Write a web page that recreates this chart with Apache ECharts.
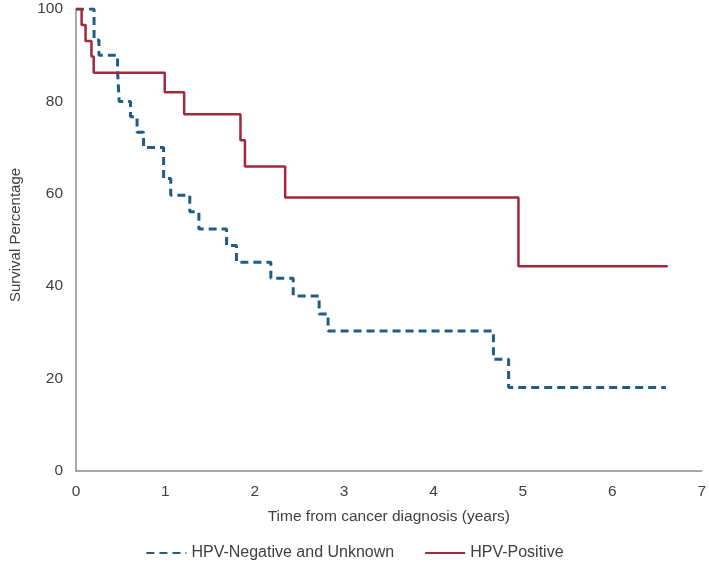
<!DOCTYPE html>
<html>
<head>
<meta charset="utf-8">
<script src="https://cdn.jsdelivr.net/npm/echarts@6/dist/echarts.min.js"></script>
<style>html,body{margin:0;padding:0;background:#fff;}#c{width:709px;height:567px;}</style>
</head>
<body>
<div id="c"></div>
<script>
// Kaplan-Meier step data: event times (years) and survival (%) after each event
const negTimes = [0, 0.202, 0.257, 0.465, 0.483, 0.61, 0.683, 0.756, 0.98, 1.06, 1.273, 1.375, 1.685, 1.795, 2.18, 2.43, 2.72, 2.82, 4.67, 4.84, 6.60];
const negSurv  = [100, 93.3, 90.0, 86.7, 80.0, 76.7, 73.3, 70.0, 63.3, 59.7, 56.1, 52.4, 48.8, 45.2, 41.7, 37.9, 34.0, 30.3, 24.2, 18.1, 18.1];
const posTimes = [0, 0.063, 0.107, 0.173, 0.198, 0.993, 1.21, 1.84, 1.89, 2.34, 4.95, 6.62];
const posSurv  = [100, 96.55, 93.1, 89.7, 86.2, 82.0, 77.2, 71.6, 65.9, 59.2, 44.3, 44.3];
const xTicks = [0, 1, 2, 3, 4, 5, 6, 7];
const yTicks = [0, 20, 40, 60, 80, 100];
const seriesNames = ['HPV-Negative and Unknown', 'HPV-Positive'];
const xTitle = 'Time from cancer diagnosis (years)';
const yTitle = 'Survival Percentage';

const toPairs = (t, s) => t.map((v, i) => [v, s[i]]);
const FONT = 'Liberation Sans, Arial, sans-serif';
const TXT = '#404040';

const chart = echarts.init(document.getElementById('c'), null, {renderer: 'canvas'});
chart.setOption({
  animation: false,
  backgroundColor: '#fff',
  grid: {left: 62, right: 6, top: 9, bottom: 96, containLabel: false},
  xAxis: {
    type: 'value', min: xTicks[0], max: xTicks[xTicks.length - 1], interval: 1,
    name: xTitle, nameLocation: 'middle', nameGap: 38,
    nameTextStyle: {fontFamily: FONT, fontSize: 15.5, color: TXT},
    axisLine: {show: true, lineStyle: {color: '#8c8c8c', width: 1.5}},
    axisTick: {show: false},
    splitLine: {show: false},
    axisLabel: {fontFamily: FONT, fontSize: 15.5, color: TXT, margin: 13}
  },
  yAxis: {
    type: 'value', min: yTicks[0], max: yTicks[yTicks.length - 1], interval: 20,
    name: yTitle, nameLocation: 'middle', nameGap: 53,
    nameTextStyle: {fontFamily: FONT, fontSize: 15, color: TXT, padding: [0, 0, 0, 10]},
    axisLine: {show: true, lineStyle: {color: '#8c8c8c', width: 1.5}},
    axisTick: {show: false},
    splitLine: {show: false},
    axisLabel: {fontFamily: FONT, fontSize: 15.5, color: TXT, margin: 13}
  },
  legend: {
    bottom: 1, left: 'center', itemGap: 30, itemWidth: 40, itemHeight: 12,
    itemStyle: {opacity: 0},
    textStyle: {fontFamily: FONT, fontSize: 16, color: TXT},
    data: seriesNames
  },
  series: [
    {
      name: seriesNames[0], type: 'line', step: 'end', symbol: 'none',
      data: toPairs(negTimes, negSurv),
      lineStyle: {color: '#1f5c86', width: 3, type: [8, 5]},
      itemStyle: {color: '#1f5c86'}
    },
    {
      name: seriesNames[1], type: 'line', step: 'end', symbol: 'none',
      data: toPairs(posTimes, posSurv),
      lineStyle: {color: '#a3283a', width: 2.5},
      itemStyle: {color: '#a3283a'}
    }
  ]
});
</script>
</body>
</html>
